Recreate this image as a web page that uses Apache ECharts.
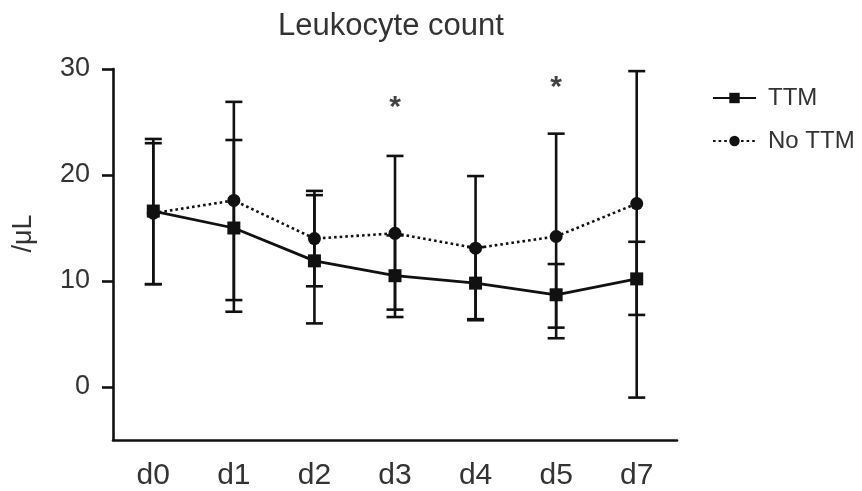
<!DOCTYPE html>
<html><head><meta charset="utf-8">
<script src="https://cdn.jsdelivr.net/npm/echarts@6/dist/echarts.min.js"></script>
<style>html,body{margin:0;padding:0;background:#fff}#c{width:862px;height:491px}</style>
</head><body><div id="c"></div>
<script>
const categories = ['d0','d1','d2','d3','d4','d5','d7'];
const ttmMean   = [16.6, 15.0, 11.9, 10.5, 9.8, 8.7, 10.2];
const ttmLow    = [9.7, 7.1, 6.0, 6.6, 6.4, 5.6, 6.8];
const ttmHigh   = [23.0, 23.3, 18.1, 14.3, 13.2, 11.6, 13.7];
const noTtmMean = [16.4, 17.6, 14.0, 14.5, 13.1, 14.2, 17.3];
const noTtmLow  = [9.7, 8.2, 9.5, 7.3, 6.3, 4.6, -1.0];
const noTtmHigh = [23.4, 26.9, 18.5, 21.8, 19.9, 23.9, 29.8];
const starCats   = ['d3','d5'];
const starValues = [26.3, 28.2];
const yTicks = [0, 10, 20, 30];

const ink = '#111';
const txt = '#333';
const font = 'Liberation Sans, Arial, sans-serif';

function errData(low, high){ return categories.map((c,i)=>[i, low[i], high[i]]); }
function errRender(params, api){
  const x = api.value(0);
  const lo = api.coord([x, api.value(1)]);
  const hi = api.coord([x, api.value(2)]);
  const w = 8.5;
  const st = {stroke: ink, lineWidth: 2.6};
  return {type:'group', children:[
    {type:'line', shape:{x1:lo[0],y1:lo[1],x2:hi[0],y2:hi[1]}, style:st},
    {type:'line', shape:{x1:lo[0]-w,y1:lo[1],x2:lo[0]+w,y2:lo[1]}, style:st},
    {type:'line', shape:{x1:hi[0]-w,y1:hi[1],x2:hi[0]+w,y2:hi[1]}, style:st}
  ]};
}

const chart = echarts.init(document.getElementById('c'), null, {renderer:'canvas'});
chart.setOption({
  animation:false,
  backgroundColor:'#fff',
  title:{text:'Leukocyte count', left:386, top:6, textAlign:'center',
    textStyle:{fontFamily:font, fontSize:31, fontWeight:'normal', color:txt}},
  legend:{
    orient:'vertical', left:712, top:86, padding:0, itemWidth:43, itemHeight:13, itemGap:19,
    data:['TTM','No TTM'],
    textStyle:{fontFamily:font, fontSize:24, color:txt, padding:[0,0,0,7]}
  },
  grid:{left:113, right:185, top:69, bottom:46, containLabel:false},
  xAxis:{
    type:'category', data:categories, boundaryGap:true,
    axisLine:{onZero:false, lineStyle:{color:ink, width:2.6}},
    axisTick:{alignWithLabel:true, length:12, lineStyle:{color:ink, width:2.6}},
    axisLabel:{fontFamily:font, fontSize:30, color:txt, margin:21},
    splitLine:{show:false}
  },
  yAxis:{
    type:'value', min:-5, max:30, interval:5,
    name:'/μL', nameLocation:'middle', nameGap:76, nameRotate:90,
    nameTextStyle:{fontFamily:font, fontSize:27, color:txt, padding:[0,0,0,42]},
    axisLine:{show:true, lineStyle:{color:ink, width:2.6}},
    axisTick:{show:true, length:11, lineStyle:{color:ink, width:2.6},
      customValues: yTicks},
    axisLabel:{fontFamily:font, fontSize:27, color:txt, margin:23,
      customValues: yTicks},
    splitLine:{show:false}
  },
  series:[
    {name:'TTM err', type:'custom', renderItem:errRender, data:errData(ttmLow, ttmHigh), z:1, silent:true},
    {name:'No TTM err', type:'custom', renderItem:errRender, data:errData(noTtmLow, noTtmHigh), z:1, silent:true},
    {name:'TTM', type:'line', data:ttmMean, symbol:'rect', symbolSize:13,
      lineStyle:{color:ink, width:2.8, type:'solid'}, itemStyle:{color:ink}, z:3},
    {name:'No TTM', type:'line', data:noTtmMean, symbol:'circle', symbolSize:13,
      lineStyle:{color:ink, width:2.6, type:[2.6,3]}, itemStyle:{color:ink}, z:3},
    {name:'sig', type:'scatter', symbol:'circle', symbolSize:1,
      itemStyle:{color:'rgba(0,0,0,0)'},
      data: starCats.map((c,i)=>[c, starValues[i]]),
      label:{show:true, formatter:'*', position:'inside', fontFamily:font, fontSize:30, color:ink, fontWeight:'bold'},
      z:4, silent:true}
  ]
});
</script></body></html>
